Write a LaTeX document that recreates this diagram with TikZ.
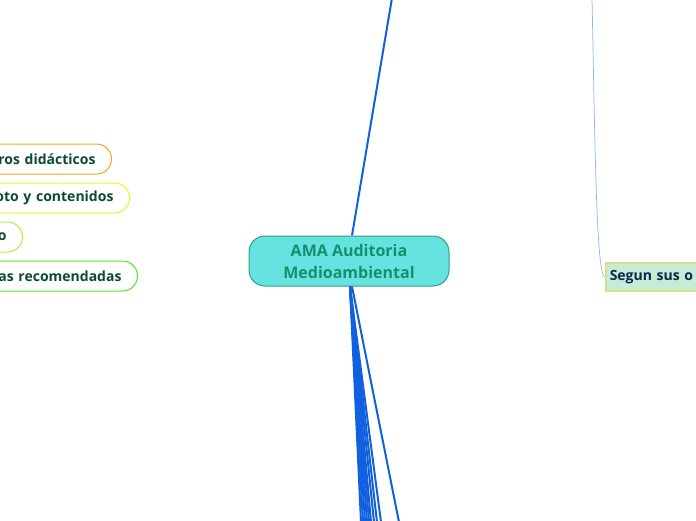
\documentclass[tikz,border=0pt]{standalone}
\usepackage{fontspec}
\setmainfont{Open Sans}
\usetikzlibrary{positioning}
\definecolor{rootfill}{HTML}{66E3E0}
\definecolor{rootline}{HTML}{2E9C86}
\definecolor{roottext}{HTML}{178F6C}
\definecolor{leaftext}{HTML}{0D4A34}
\definecolor{linkblue}{HTML}{1060E0}
\definecolor{thinblue}{HTML}{8CB6F2}
\definecolor{segfill}{HTML}{C6ECD6}
\definecolor{segline}{HTML}{D6E08A}
\definecolor{segtext}{HTML}{0E2452}
\definecolor{cOrange}{HTML}{F5A623}
\definecolor{cYellow}{HTML}{EEF02A}
\definecolor{cLime}{HTML}{B2F03E}
\definecolor{cGreen}{HTML}{4EE82E}

\begin{document}
\begin{tikzpicture}[
  x=1pt, y=-1pt,
  topic/.style={draw=#1, line width=1pt, fill=white, rounded corners=15pt,
    minimum height=30pt, text width=220pt, align=right, inner xsep=16pt,
    inner ysep=0pt, anchor=east, text=leaftext,
    font=\fontsize{14}{16}\selectfont\bfseries},
  link/.style={draw=linkblue, line width=2pt}
]
\useasboundingbox (0,0) rectangle (696,520);
\clip (0,0) rectangle (696,520);

\node[draw=rootline, fill=rootfill, line width=1pt, rounded corners=16pt,
  minimum width=200pt, minimum height=50pt, align=center, text=roottext,
  font=\fontsize{16}{22}\selectfont\bfseries] (root) at (349,261)
  {AMA Auditoria\\Medioambiental};

\foreach \nm/\yy/\xx/\cl/\tx in {
  obj/159/112/cOrange/{ros didácticos},
  con/198/130/cYellow/{oto y contenidos},
  mid/237/23/cLime/{o},
  lec/276/138/cGreen/{as recomendadas}} {
  \node[topic=\cl] (\nm) at (\xx,\yy) {\tx};
}

\node[draw=segline, fill=segfill, line width=1.5pt, minimum height=28pt,
  text width=150pt, align=left, inner xsep=4pt, anchor=west, text=segtext,
  font=\fontsize{14}{16}\selectfont\bfseries] (seg) at (605,277) {Segun sus o};

\coordinate (up) at (392,-2);
\coordinate (segup) at (592,-2);
\draw[link] ([xshift=3pt]root.north) -- (up);
\draw[draw=thinblue, line width=0.7pt] (seg.west)
  .. controls +(-9,0) and +(3,140) .. (segup);

\foreach \ex [count=\i] in {361,363,365,367,369,371,374,377,381} {
  \coordinate (dn\i) at (\ex,522);
  \draw[link] ([xshift=1pt]root.south) -- (dn\i);
}
\coordinate (far) at (399,522);
\draw[link] ([xshift=3pt]root.south) -- (far);
\end{tikzpicture}
\end{document}
